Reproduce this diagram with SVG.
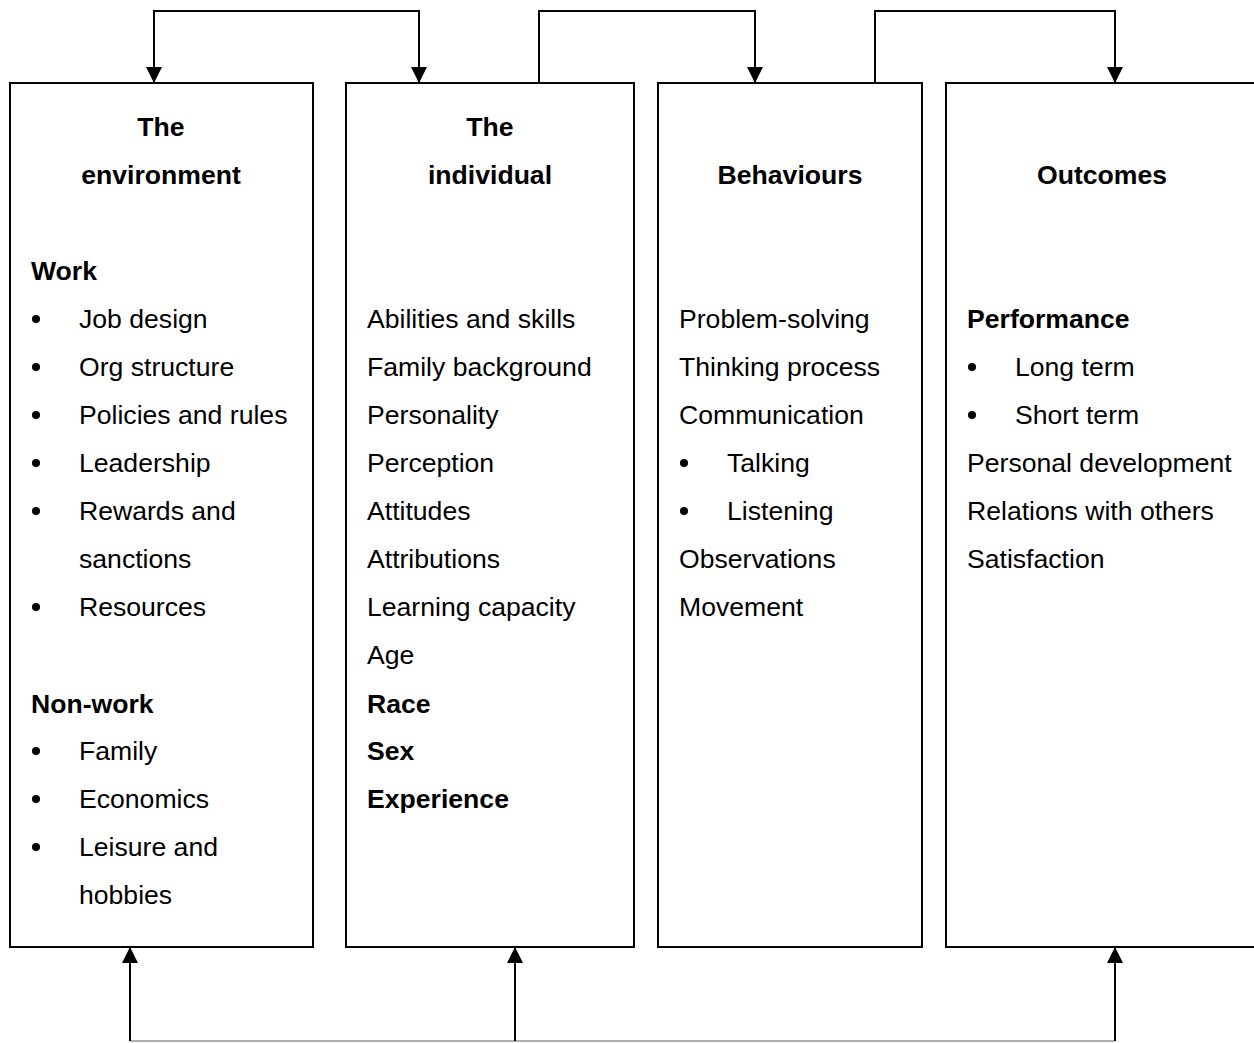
<svg xmlns="http://www.w3.org/2000/svg" width="1254" height="1043" viewBox="0 0 1254 1043">
  <style>
    .box { fill: #ffffff; stroke: #000000; stroke-width: 2; }
    .wire { fill: none; stroke: #000000; stroke-width: 2; }
    .wire-low { fill: none; stroke: #b0b0b0; stroke-width: 2; }
    text { font-family: "Liberation Sans", Arial, sans-serif; font-size: 26.6px; fill: #000000; }
    .b { font-weight: bold; }
    .mid { text-anchor: middle; }
  </style>
  <defs>
    <marker id="arrow" viewBox="0 0 16 16" refX="16" refY="8" markerWidth="16" markerHeight="16" markerUnits="userSpaceOnUse" orient="auto">
      <path d="M0,0 L16,8 L0,16 Z" fill="#000000"/>
    </marker>
  </defs>

  <!-- column boxes -->
  <g id="environment">
    <rect class="box" x="10" y="83" width="303" height="864"/>
    <text class="b mid" x="161" y="136">The</text>
    <text class="b mid" x="161" y="184">environment</text>
    <text class="b" x="31" y="280">Work</text>
    <g>
      <circle cx="36" cy="319" r="4"/><text x="79" y="328">Job design</text>
      <circle cx="36" cy="367" r="4"/><text x="79" y="376">Org structure</text>
      <circle cx="36" cy="415" r="4"/><text x="79" y="424">Policies and rules</text>
      <circle cx="36" cy="463" r="4"/><text x="79" y="472">Leadership</text>
      <circle cx="36" cy="511" r="4"/><text x="79" y="520">Rewards and</text>
      <text x="79" y="568">sanctions</text>
      <circle cx="36" cy="607" r="4"/><text x="79" y="616">Resources</text>
    </g>
    <text class="b" x="31" y="713">Non-work</text>
    <g>
      <circle cx="36" cy="751" r="4"/><text x="79" y="760">Family</text>
      <circle cx="36" cy="799" r="4"/><text x="79" y="808">Economics</text>
      <circle cx="36" cy="847" r="4"/><text x="79" y="856">Leisure and</text>
      <text x="79" y="904">hobbies</text>
    </g>
  </g>

  <g id="individual">
    <rect class="box" x="346" y="83" width="288" height="864"/>
    <text class="b mid" x="490" y="136">The</text>
    <text class="b mid" x="490" y="184">individual</text>
    <text x="367" y="328">Abilities and skills</text>
    <text x="367" y="376">Family background</text>
    <text x="367" y="424">Personality</text>
    <text x="367" y="472">Perception</text>
    <text x="367" y="520">Attitudes</text>
    <text x="367" y="568">Attributions</text>
    <text x="367" y="616">Learning capacity</text>
    <text x="367" y="664">Age</text>
    <text class="b" x="367" y="713">Race</text>
    <text class="b" x="367" y="760">Sex</text>
    <text class="b" x="367" y="808">Experience</text>
  </g>

  <g id="behaviours">
    <rect class="box" x="658" y="83" width="264" height="864"/>
    <text class="b mid" x="790" y="184">Behaviours</text>
    <text x="679" y="328">Problem-solving</text>
    <text x="679" y="376">Thinking process</text>
    <text x="679" y="424">Communication</text>
    <circle cx="684" cy="463" r="4"/><text x="727" y="472">Talking</text>
    <circle cx="684" cy="511" r="4"/><text x="727" y="520">Listening</text>
    <text x="679" y="568">Observations</text>
    <text x="679" y="616">Movement</text>
  </g>

  <g id="outcomes">
    <rect class="box" x="946" y="83" width="320" height="864"/>
    <text class="b mid" x="1102" y="184">Outcomes</text>
    <text class="b" x="967" y="328">Performance</text>
    <circle cx="972" cy="367" r="4"/><text x="1015" y="376">Long term</text>
    <circle cx="972" cy="415" r="4"/><text x="1015" y="424">Short term</text>
    <text x="967" y="472">Personal development</text>
    <text x="967" y="520">Relations with others</text>
    <text x="967" y="568">Satisfaction</text>
  </g>

  <!-- feedback and flow connectors -->
  <g id="connectors">
    <path class="wire" d="M286,11 H154 V83" marker-end="url(#arrow)"/>
    <path class="wire" d="M286,11 H419 V83" marker-end="url(#arrow)"/>
    <path class="wire" d="M539,83 V11 H755 V83" marker-end="url(#arrow)"/>
    <path class="wire" d="M875,83 V11 H1115 V83" marker-end="url(#arrow)"/>
    <path class="wire-low" d="M130,1041 H1115"/>
    <path class="wire" d="M130,1041 V947" marker-end="url(#arrow)"/>
    <path class="wire" d="M515,1041 V947" marker-end="url(#arrow)"/>
    <path class="wire" d="M1115,1041 V947" marker-end="url(#arrow)"/>
  </g>
</svg>
